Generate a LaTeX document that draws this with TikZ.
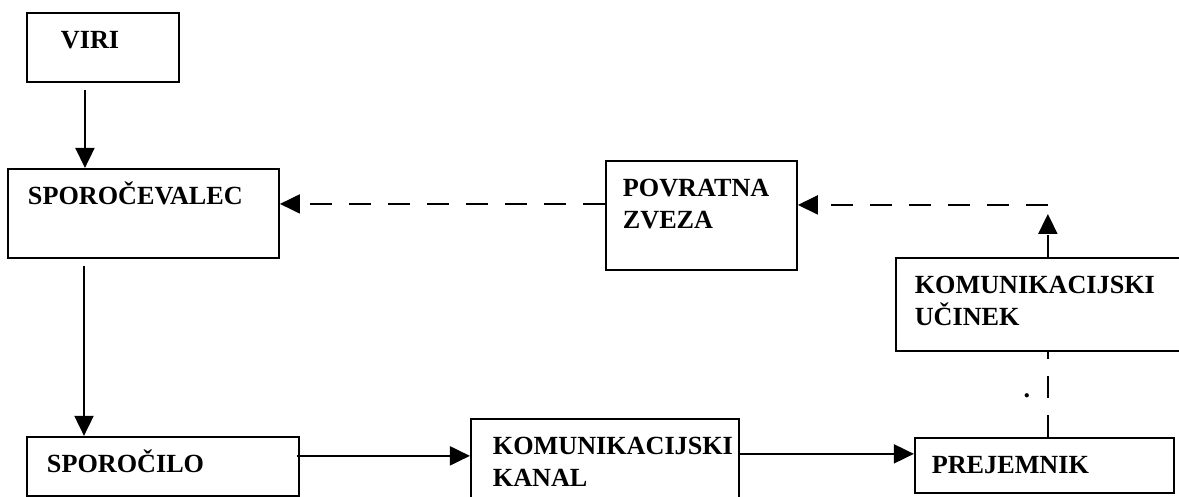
\documentclass[tikz,border=0pt]{standalone}
\usepackage{fontspec}
\setmainfont{Liberation Serif}
\usetikzlibrary{arrows.meta,positioning}

\begin{document}
\begin{tikzpicture}[
    node distance=1.7cm,
    box/.style={draw, line width=1.1pt, align=left, inner xsep=0.4cm, inner ysep=0pt,
      text height=0.72cm, font=\bfseries\fontsize{14.9}{18.2}\selectfont},
    arrow/.style={-{Triangle[length=0.4cm, width=0.38cm]}, line width=1.1pt},
    dashedline/.style={line width=1.1pt, dash pattern=on 0.44cm off 0.34cm},
    dashedarrow/.style={arrow, dash pattern=on 0.44cm off 0.34cm}
  ]
    \useasboundingbox (0,0) rectangle (23.58,-9.92);

    \node[box, text width=1.68cm, inner xsep=0.68cm, text depth=0.66cm, anchor=north west] (viri) at (0.52,-0.24) {VIRI};
    \node[box, text width=4.62cm, text depth=1.06cm, below=1.7cm of viri.south west, anchor=north west, xshift=-0.38cm] (sender) {SPOROČEVALEC};
    \node[box, text width=4.64cm, text depth=0.46cm, below=3.54cm of sender.south west, anchor=north west, xshift=0.38cm] (message) {SPOROČILO};
    \node[box, text width=4.48cm, inner xsep=0.44cm, text depth=0.9cm, right=3.4cm of message.north east, anchor=north west, yshift=0.36cm] (channel) {KOMUNIKACIJSKI\\KANAL};
    \node[box, text width=4.5cm, inner xsep=0.34cm, text depth=0.38cm, right=3.48cm of channel.north east, anchor=north west, yshift=-0.38cm] (receiver) {PREJEMNIK};
    \node[box, text width=5.14cm, inner xsep=0.38cm, text depth=1.14cm, above=1.7cm of receiver.north west, anchor=south west, xshift=-0.38cm] (effect) {KOMUNIKACIJSKI\\UČINEK};
    \node[box, text width=3.14cm, inner xsep=0.34cm, text depth=1.46cm, right=6.5cm of sender.north east, anchor=north west, yshift=0.16cm] (feedback) {POVRATNA\\ZVEZA};
    \node[inner sep=0pt, font=\bfseries\fontsize{14.9}{18.2}\selectfont] (stray) at ([xshift=2.26cm, yshift=0.82cm]receiver.north west) {.};

    \coordinate (corner) at ([xshift=3.06cm, yshift=1.04cm]effect.north west);

    \draw[arrow] ([xshift=-0.36cm, yshift=-0.14cm]viri.south) -- ([xshift=-0.36cm]viri.south |- sender.north);
    \draw[arrow] ([xshift=1.16cm, yshift=-0.14cm]message.north west |- sender.south) -- ([xshift=1.16cm]message.north west);
    \draw[arrow] ([xshift=-0.06cm, yshift=-0.4cm]message.north east) -- ([yshift=-0.4cm]message.north east -| channel.west);
    \draw[arrow] ([yshift=-0.72cm]channel.north east) -- ([yshift=-0.72cm]channel.north east -| receiver.west);
    \draw[dashedline] ([xshift=2.68cm]receiver.north west) -- ([xshift=2.68cm]receiver.north west |- effect.south);
    \draw[dashedarrow, shorten >=0.18cm] ([xshift=3.06cm]effect.north west) -- (corner);
    \draw[dashedarrow] (corner) -- (corner -| feedback.east);
    \draw[dashedarrow] ([yshift=-0.88cm]feedback.north west) -- ([yshift=-0.88cm]feedback.north west -| sender.east);
  \end{tikzpicture}
\end{document}
